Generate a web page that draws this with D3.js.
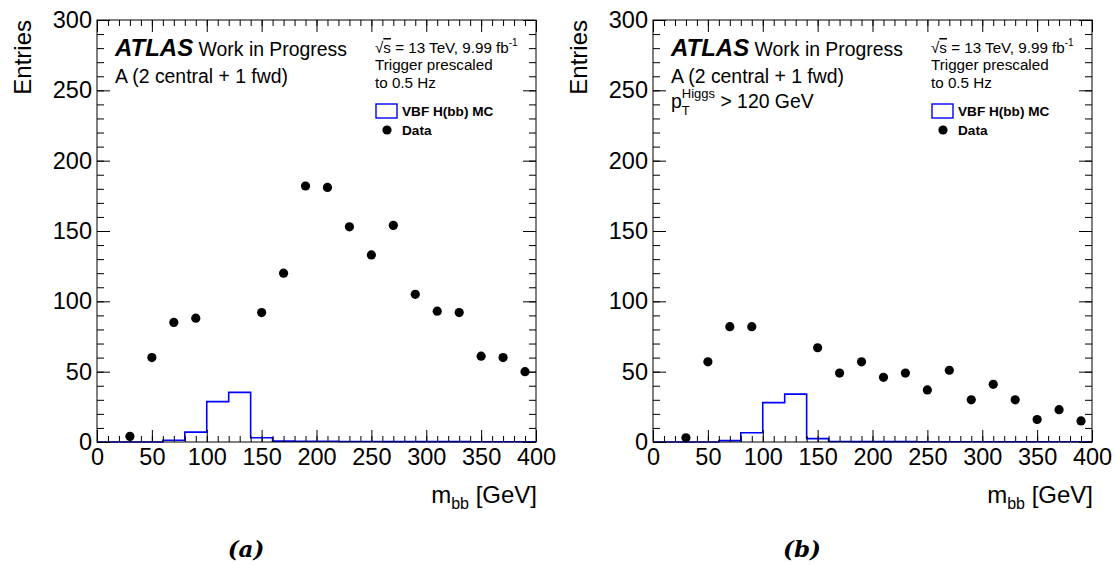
<!DOCTYPE html>
<html lang="en">
  <head>
    <meta charset="utf-8">
    <title>mbb_regionA</title>
    <script src="https://d3js.org/d3.v7.js"></script>
    <style>
      body { margin: 0; background: white; }
      text { font-family: "Liberation Sans", Arial, Helvetica, sans-serif; fill: black; }
    </style>
  </head>
  <body>
    <script>
    // data: bin centres of the data points (110-130 are blinded), MC bin edges, values
    const dataCenters = [30, 50, 70, 90, 150, 170, 190, 210, 230, 250, 270, 290, 310, 330, 350, 370, 390];
    const dataA = [4, 60, 85, 88, 92, 120, 182, 181, 153, 133, 154, 105, 93, 92, 61, 60, 50];
    const dataB = [3, 57, 82, 82, 67, 49, 57, 46, 49, 37, 51, 30, 41, 30, 16, 23, 15];

    const mcEdges = [0, 20, 40, 60, 80, 100, 120, 140, 160, 180, 200, 220, 240, 260, 280, 300, 320, 340, 360, 380, 400];
    const mcA = [0, 0, 0, 1.2, 7, 28.7, 35.3, 3, 0.6, 0.5, 0.5, 0.4, 0.4, 0.3, 0.3, 0.3, 0.3, 0.2, 0.2, 0.2];
    const mcB = [0, 0, 0, 1, 6.6, 28, 34, 2.4, 0.4, 0.3, 0.3, 0.3, 0.2, 0.2, 0.2, 0.2, 0.2, 0.2, 0.2, 0.2];

    const xMajor = [0, 50, 100, 150, 200, 250, 300, 350, 400];
    const yMajor = [0, 50, 100, 150, 200, 250, 300];

    const W = 1115, H = 565;
    const frame = {left: 97, right: 536, top: 20, bottom: 442};
    const panelShift = 556;

    const svg = d3.select("body").append("svg")
                  .attr("width", W)
                  .attr("height", H);

    svg.append("rect")
       .attr("width", W)
       .attr("height", H)
       .attr("fill", "white");

    const xScale = d3.scaleLinear().domain([0, 400]).range([frame.left, frame.right]);
    const yScale = d3.scaleLinear().domain([0, 300]).range([frame.bottom, frame.top]);

    function drawPanel(dx, dataVals, mcVals, showPt, caption) {
      const g = svg.append("g").attr("transform", `translate(${dx},0)`);

      // MC histogram (step outline)
      const pts = [[mcEdges[0], 0]];
      mcVals.forEach((v, i) => {
        pts.push([mcEdges[i], v]);
        pts.push([mcEdges[i + 1], v]);
      });
      pts.push([mcEdges[mcEdges.length - 1], 0]);
      g.append("path")
       .attr("d", d3.line().x(d => xScale(d[0])).y(d => yScale(d[1]))(pts))
       .attr("fill", "none")
       .attr("stroke", "#0000ff")
       .attr("stroke-width", 1.6);

      // axes - ticks pointing inwards, ROOT style
      const minorX = d3.range(0, 401, 10);
      const minorY = d3.range(0, 301, 10);

      g.append("g").attr("transform", `translate(0,${frame.bottom})`)
       .call(d3.axisBottom(xScale).tickValues(minorX).tickSize(-6).tickFormat(""));
      g.append("g").attr("class", "xlab").attr("transform", `translate(0,${frame.bottom})`)
       .call(d3.axisBottom(xScale).tickValues(xMajor).tickSize(-12).tickPadding(6).tickFormat(d3.format("d")));
      g.append("g").attr("transform", `translate(0,${frame.top})`)
       .call(d3.axisTop(xScale).tickValues(minorX).tickSize(-6).tickFormat(""));
      g.append("g").attr("transform", `translate(0,${frame.top})`)
       .call(d3.axisTop(xScale).tickValues(xMajor).tickSize(-12).tickFormat(""));

      g.append("g").attr("transform", `translate(${frame.left},0)`)
       .call(d3.axisLeft(yScale).tickValues(minorY).tickSize(-7).tickFormat(""));
      g.append("g").attr("class", "ylab").attr("transform", `translate(${frame.left},0)`)
       .call(d3.axisLeft(yScale).tickValues(yMajor).tickSize(-13).tickPadding(5).tickFormat(d3.format("d")));
      g.append("g").attr("transform", `translate(${frame.right},0)`)
       .call(d3.axisRight(yScale).tickValues(minorY).tickSize(-7).tickFormat(""));
      g.append("g").attr("transform", `translate(${frame.right},0)`)
       .call(d3.axisRight(yScale).tickValues(yMajor).tickSize(-13).tickFormat(""));

      g.selectAll(".domain").remove();
      g.selectAll(".tick line").attr("stroke", "black").attr("stroke-width", 1);
      g.selectAll(".tick text").attr("font-size", 23.5).attr("fill", "black");

      g.append("rect")
       .attr("x", frame.left)
       .attr("y", frame.top)
       .attr("width", frame.right - frame.left)
       .attr("height", frame.bottom - frame.top)
       .attr("fill", "none")
       .attr("stroke", "black")
       .attr("stroke-width", 1);

      // data points
      g.selectAll("circle.data")
       .data(dataVals)
       .enter().append("circle")
       .attr("class", "data")
       .attr("cx", (d, i) => xScale(dataCenters[i]))
       .attr("cy", d => yScale(d))
       .attr("r", 4.6)
       .attr("fill", "black");

      // axis titles
      g.append("text")
       .attr("transform", "translate(31,20) rotate(-90)")
       .attr("text-anchor", "end")
       .attr("font-size", 24)
       .text("Entries");

      const xt = g.append("text")
                  .attr("x", 537)
                  .attr("y", 503)
                  .attr("text-anchor", "end")
                  .attr("font-size", 24);
      xt.append("tspan").text("m");
      xt.append("tspan").attr("font-size", 16).attr("dy", 6).text("bb");
      xt.append("tspan").attr("dy", -6).text(" [GeV]");

      // ATLAS label
      const at = g.append("text").attr("x", 115).attr("y", 56);
      at.append("tspan").attr("font-size", 24).attr("font-weight", "bold").attr("font-style", "italic").text("ATLAS");
      at.append("tspan").attr("font-size", 19.4).text(" Work in Progress");

      g.append("text").attr("x", 115).attr("y", 83).attr("font-size", 19.4).text("A (2 central + 1 fwd)");

      if (showPt) {
        const pt = g.append("text").attr("x", 115).attr("y", 108).attr("font-size", 19.4);
        pt.append("tspan").text("p");
        pt.append("tspan").attr("font-size", 13).attr("dy", 7).text("T");
        pt.append("tspan").attr("font-size", 13).attr("dx", -8).attr("dy", -17).text("Higgs");
        pt.append("tspan").attr("dy", 10).text(" > 120 GeV");
      }

      // energy / lumi
      const en = g.append("text").attr("x", 375).attr("y", 53).attr("font-size", 15.2);
      en.append("tspan").text("√");
      en.append("tspan").attr("text-decoration", "overline").text("s");
      en.append("tspan").text(" = 13 TeV, 9.99 fb");
      en.append("tspan").attr("font-size", 10).attr("dy", -7).text("-1");
      g.append("text").attr("x", 375).attr("y", 70).attr("font-size", 15.2).text("Trigger prescaled");
      g.append("text").attr("x", 375).attr("y", 88).attr("font-size", 15.2).text("to 0.5 Hz");

      // legend
      g.append("rect")
       .attr("x", 376).attr("y", 104)
       .attr("width", 21).attr("height", 14)
       .attr("fill", "white")
       .attr("stroke", "#0000ff")
       .attr("stroke-width", 1.4);
      g.append("text").attr("x", 402).attr("y", 116).attr("font-size", 13.6)
       .attr("font-weight", "bold").text("VBF H(bb) MC");
      g.append("circle").attr("cx", 387).attr("cy", 130).attr("r", 4.6).attr("fill", "black");
      g.append("text").attr("x", 402).attr("y", 135).attr("font-size", 13.6)
       .attr("font-weight", "bold").text("Data");

      // sub-caption
      g.append("text")
       .attr("x", 246).attr("y", 557)
       .attr("text-anchor", "middle")
       .attr("font-size", 23)
       .attr("font-style", "italic")
       .attr("font-weight", "bold")
       .style("font-family", "'DejaVu Serif', serif")
       .text(caption);
    }

    drawPanel(0, dataA, mcA, false, "(a)");
    drawPanel(panelShift, dataB, mcB, true, "(b)");
    </script>
  </body>
</html>
